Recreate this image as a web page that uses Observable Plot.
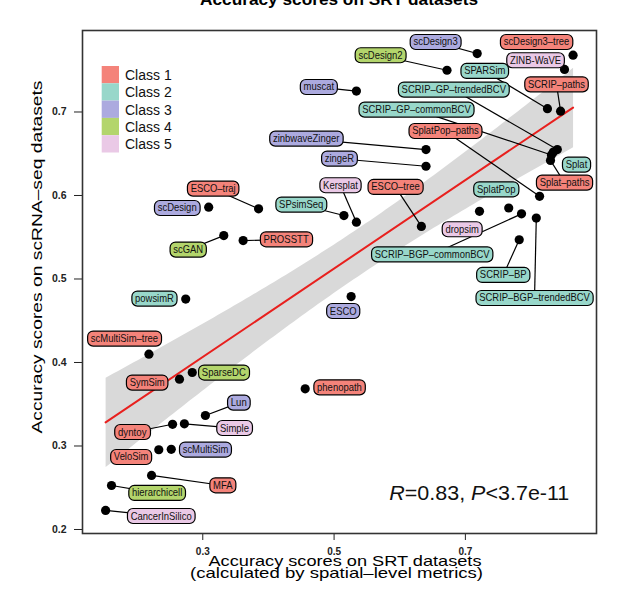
<!DOCTYPE html>
<html><head><meta charset="utf-8">
<script src="https://cdn.jsdelivr.net/npm/d3@7"></script>
<script src="https://cdn.jsdelivr.net/npm/@observablehq/plot@0.6"></script>
<style>
html,body{margin:0;padding:0;background:#fff;}
#wrap{position:relative;width:633px;height:599px;overflow:hidden;font-family:"Liberation Sans",Arial,Helvetica,sans-serif;}
#wrap svg.overlay{position:absolute;left:0;top:0;pointer-events:none;}
</style></head><body><div id="wrap"></div>
<script>
// ---- data ----
const methods = ["scDesign3–tree","scDesign3","ZINB-WaVE","scDesign2","muscat","SPARSim","SCRIP–paths",
  "SCRIP–GP–trendedBCV","SCRIP–GP–commonBCV","Splat","Splat–paths","zinbwaveZinger","zingeR","SplatPop–paths",
  "ESCO–traj","scDesign","SPsimSeq","Kersplat","ESCO–tree","SplatPop","dropsim","SCRIP–BGP–commonBCV",
  "SCRIP–BGP–trendedBCV","SCRIP–BP","scGAN","PROSSTT","powsimR","ESCO","scMultiSim–tree","SparseDC","SymSim",
  "phenopath","Lun","dyntoy","Simple","VeloSim","scMultiSim","MFA","hierarchicell","CancerInSilico"];
// accuracy on SRT datasets (x)
const srtScore = [0.864,0.718,0.851,0.672,0.534,0.825,0.845,
  0.840,0.831,0.834,0.8296,0.640,0.640,0.813,
  0.385,0.309,0.515,0.534,0.633,0.766,0.7215,0.7855,
  0.808,0.782,0.332,0.3615,0.274,0.526,0.218,0.284,0.2645,
  0.456,0.304,0.254,0.272,0.233,0.252,0.222,0.161,0.152];
// accuracy on scRNA-seq datasets (y)
const scrnaScore = [0.768,0.770,0.751,0.750,0.725,0.704,0.701,
  0.655,0.6485,0.652,0.642,0.655,0.635,0.599,
  0.584,0.586,0.576,0.568,0.563,0.585,0.581,0.578,
  0.573,0.547,0.552,0.546,0.476,0.479,0.410,0.388,0.380,
  0.3685,0.3365,0.326,0.3266,0.2955,0.296,0.2647,0.2527,0.2228];
const methodClass = [1,3,5,4,3,2,1,
  2,2,2,1,3,3,1,
  1,3,2,5,1,2,5,2,
  2,2,4,1,2,3,1,4,1,
  1,3,1,5,1,3,1,4,5];
// repelled label anchors, in data units
const labelSrt = [0.8083,0.6545,0.8068,0.5707,0.4767,0.7295,0.8388,
  0.6823,0.6255,0.8692,0.851,0.4575,0.5082,0.6697,
  0.3158,0.261,0.4499,0.5097,0.5935,0.7469,0.6951,0.6494,
  0.8053,0.7576,0.2778,0.427,0.2264,0.5139,0.1807,0.332,0.2153,
  0.5082,0.3548,0.1925,0.3483,0.1909,0.3041,0.3305,0.2305,0.2366];
const labelScrna = [0.7836,0.7836,0.7617,0.7677,0.7297,0.7489,0.7329,
  0.7266,0.7026,0.6368,0.6152,0.6679,0.644,0.677,
  0.608,0.5848,0.5889,0.612,0.61,0.6072,0.5593,0.5293,
  0.477,0.5046,0.535,0.5473,0.4763,0.4614,0.4284,0.3877,0.3757,
  0.37,0.3517,0.3165,0.3213,0.2866,0.2955,0.2527,0.2435,0.2159];
const classNames = ["Class 1","Class 2","Class 3","Class 4","Class 5"];
const xTicks = [0.3,0.5,0.7];
const yTicks = [0.2,0.3,0.4,0.5,0.6,0.7];
const statText = ["R","=0.83, ","P","<3.7e-11"];

// ---- styles ----
const classColors = ["#F4837A","#98D7CA","#ACAADF","#B3D56C","#EAC9E6"];
const FONT = '"Liberation Sans",Arial,Helvetica,sans-serif';

const data = methods.map((m,i)=>({method:m, srt:srtScore[i], scrna:scrnaScore[i], cls:methodClass[i], lx:labelSrt[i], ly:labelScrna[i]}));

const chart = Plot.plot({
  width: 633, height: 599,
  marginLeft: 82, marginRight: 37, marginTop: 30, marginBottom: 66,
  style: {fontFamily: FONT, fontSize: "10.5px", fontWeight: "bold", color: "#222", background: "transparent"},
  x: {domain: [0.1168, 0.8997], ticks: xTicks, tickSize: 7, tickPadding: 7, tickFormat: d => d.toFixed(1), label: null},
  y: {domain: [0.1952, 0.7976], ticks: yTicks, tickSize: 8, tickPadding: 8, tickFormat: d => d.toFixed(1), label: null},
  marks: [
    Plot.linearRegressionY(data, {x: "srt", y: "scrna", stroke: "#E8201E", strokeWidth: 2, fill: "#D9D9D9", fillOpacity: 1, ci: 0.95}),
    Plot.link(data, {x1: "srt", y1: "scrna", x2: "lx", y2: "ly", stroke: "#000", strokeWidth: 1.2}),
    Plot.dot(data, {x: "srt", y: "scrna", r: 4.6, fill: "#000", stroke: "none"}),
    Plot.text(data, {x: "lx", y: "ly", text: "method", fontSize: 10.3, fontWeight: "normal", fill: "#111"}),
    Plot.frame({stroke: "#333", strokeWidth: 1.6})
  ]
});
const wrap = document.getElementById("wrap");
wrap.appendChild(chart);

// x tick label size
chart.querySelectorAll('[aria-label^="x-axis"]').forEach(g => g.setAttribute("font-size", "10"));

// label boxes (rounded, class-coloured) and short-segment removal
const ns = "http://www.w3.org/2000/svg";
let sx = null, sy = null;
try { sx = chart.scale("x"); sy = chart.scale("y"); } catch (e) {}
const nameSet = new Set(methods);
const texts = Array.from(chart.querySelectorAll("text")).filter(t => nameSet.has(t.textContent));
let links = [];
chart.querySelectorAll("g").forEach(g => {
  const ps = Array.from(g.children).filter(c => c.tagName.toLowerCase() === "path");
  if (ps.length === methods.length) links = ps;
});
texts.forEach((t) => {
  const i = methods.indexOf(t.textContent);
  // slightly condensed glyphs, as in the reference
  const w0 = t.getBBox().width;
  t.setAttribute("textLength", (w0 * 0.915).toFixed(2));
  t.setAttribute("lengthAdjust", "spacingAndGlyphs");
  const bb = t.getBBox();
  const padX = 3.2, padY = 2;
  const r = document.createElementNS(ns, "rect");
  r.setAttribute("x", bb.x - padX);
  r.setAttribute("y", bb.y - padY);
  r.setAttribute("width", bb.width + 2 * padX);
  r.setAttribute("height", bb.height + 2 * padY);
  r.setAttribute("rx", 5.5);
  const tr = t.getAttribute("transform");
  if (tr) r.setAttribute("transform", tr);
  r.setAttribute("fill", classColors[methodClass[i] - 1]);
  r.setAttribute("stroke", "#000");
  r.setAttribute("stroke-width", 1.2);
  t.parentNode.insertBefore(r, t);
  try {
    const m = t.getCTM();
    const x0 = m.e + bb.x - padX, x1 = x0 + bb.width + 2 * padX;
    const y0 = m.f + bb.y - padY, y1 = y0 + bb.height + 2 * padY;
    const px = sx.apply(srtScore[i]), py = sy.apply(scrnaScore[i]);
    const dx = Math.max(x0 - px, 0, px - x1), dy = Math.max(y0 - py, 0, py - y1);
    if (Math.hypot(dx, dy) < 11.5 && links[i]) links[i].setAttribute("display", "none");
  } catch (e) {}
});

// ---- overlay texts: title, axis titles, legend, statistics ----
const ov = d3.select(wrap).append("svg").attr("class", "overlay")
  .attr("width", 633).attr("height", 599).style("font-family", FONT);
ov.append("text").attr("x", 339).attr("y", 4.5).attr("text-anchor", "middle")
  .attr("font-size", 17).attr("font-weight", "bold").attr("textLength", 278).attr("lengthAdjust", "spacingAndGlyphs")
  .text("Accuracy scores on SRT datasets");
ov.append("text").attr("x", 345).attr("y", 565.5).attr("text-anchor", "middle")
  .attr("font-size", 14.5).attr("textLength", 273).attr("lengthAdjust", "spacingAndGlyphs")
  .text("Accuracy scores on SRT datasets");
ov.append("text").attr("x", 336.5).attr("y", 578).attr("text-anchor", "middle")
  .attr("font-size", 14.5).attr("textLength", 293).attr("lengthAdjust", "spacingAndGlyphs")
  .text("(calculated by spatial–level metrics)");
ov.append("text").attr("transform", "translate(41.5,257) rotate(-90)").attr("text-anchor", "middle")
  .attr("font-size", 15).attr("textLength", 353).attr("lengthAdjust", "spacingAndGlyphs")
  .text("Accuracy scores on scRNA–seq datasets");
// legend
const lg = ov.append("g");
classNames.forEach((c, i) => {
  lg.append("rect").attr("x", 101.7).attr("y", 66 + i * 17.3).attr("width", 17.3).attr("height", 17.3)
    .attr("fill", classColors[i]);
  lg.append("text").attr("x", 125).attr("y", 80 + i * 17.3).attr("font-size", 14).attr("fill", "#111").text(c);
});
// statistics
const st = ov.append("text").attr("x", 389.3).attr("y", 500).attr("font-size", 19.5)
  .attr("textLength", 180).attr("lengthAdjust", "spacingAndGlyphs").attr("fill", "#111");
statText.forEach((s, i) => st.append("tspan").attr("font-style", i % 2 === 0 ? "italic" : "normal").text(s));
</script>
</body></html>
